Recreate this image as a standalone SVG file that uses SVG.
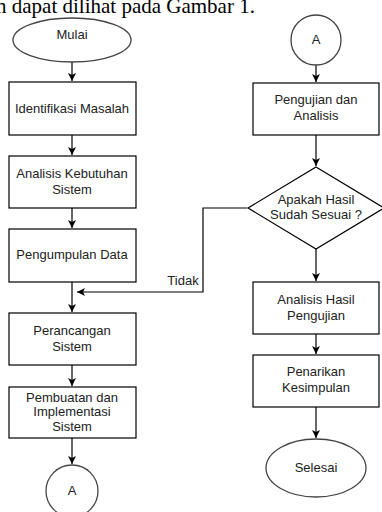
<svg xmlns="http://www.w3.org/2000/svg" width="382" height="512" viewBox="0 0 382 512">
<style>
.box{fill:#fff;stroke:#000;stroke-width:1.2}
.term{fill:#fff;stroke:#444;stroke-width:1.3}
.t{font-family:"Liberation Sans",Arial,sans-serif;font-size:13px;fill:#222;text-anchor:middle}
.c{fill:none;stroke:#000;stroke-width:1.2}
</style>
<defs>
<marker id="ah" markerWidth="10" markerHeight="10" refX="8" refY="5" orient="auto" markerUnits="userSpaceOnUse">
<path d="M0,1 L8,5 L0,9 L2,5 z" fill="#000"/>
</marker>
</defs>
<rect width="382" height="512" fill="#fff"/>
<text x="-4" y="13" font-family="'Liberation Serif','Times New Roman',serif" font-size="21" fill="#000">n dapat dilihat pada Gambar 1.</text>

<g id="connectors">
<path class="c" d="M72,62 V81" marker-end="url(#ah)"/>
<path class="c" d="M72,135 V155" marker-end="url(#ah)"/>
<path class="c" d="M72,208 V228" marker-end="url(#ah)"/>
<path class="c" d="M72,282 V312" marker-end="url(#ah)"/>
<path class="c" d="M72,365 V386" marker-end="url(#ah)"/>
<path class="c" d="M72,438 V464" marker-end="url(#ah)"/>
<path class="c" d="M316,65 V82" marker-end="url(#ah)"/>
<path class="c" d="M316,135 V166" marker-end="url(#ah)"/>
<path class="c" d="M316,249 V281" marker-end="url(#ah)"/>
<path class="c" d="M316,334 V354" marker-end="url(#ah)"/>
<path class="c" d="M316,407 V438" marker-end="url(#ah)"/>
<path class="c" d="M247,208 H203 V292 H77" marker-end="url(#ah)"/>
<text class="t" x="183" y="285">Tidak</text>
</g>

<g id="mulai"><ellipse class="term" cx="72" cy="40" rx="59" ry="22"/><text class="t" x="72" y="39">Mulai</text></g>
<g id="identifikasi"><rect class="box" x="9" y="82" width="127" height="53"/><text class="t" x="72" y="113">Identifikasi Masalah</text></g>
<g id="analisis-kebutuhan"><rect class="box" x="9" y="156" width="127" height="52"/><text class="t" x="72" y="178">Analisis Kebutuhan</text><text class="t" x="72" y="194">Sistem</text></g>
<g id="pengumpulan"><rect class="box" x="9" y="229" width="127" height="53"/><text class="t" x="72" y="259">Pengumpulan Data</text></g>
<g id="perancangan"><rect class="box" x="9" y="313" width="127" height="52"/><text class="t" x="72" y="335">Perancangan</text><text class="t" x="72" y="351">Sistem</text></g>
<g id="pembuatan"><rect class="box" x="9" y="387" width="127" height="51"/><text class="t" x="72" y="402">Pembuatan dan</text><text class="t" x="72" y="416">Implementasi</text><text class="t" x="72" y="431">Sistem</text></g>
<g id="a-bottom"><circle class="term" cx="72" cy="491" r="26"/><text class="t" x="72" y="495">A</text></g>

<g id="a-top"><circle class="term" cx="316" cy="40" r="25"/><text class="t" x="316" y="44">A</text></g>
<g id="pengujian"><rect class="box" x="253" y="83" width="126" height="52"/><text class="t" x="316" y="104">Pengujian dan</text><text class="t" x="316" y="120">Analisis</text></g>
<g id="keputusan"><polygon class="box" points="316,167 384,208 316,249 248,208"/><text class="t" x="316" y="204">Apakah Hasil</text><text class="t" x="316" y="219">Sudah Sesuai ?</text></g>
<g id="analisis-hasil"><rect class="box" x="253" y="282" width="126" height="52"/><text class="t" x="316" y="304">Analisis Hasil</text><text class="t" x="316" y="320">Pengujian</text></g>
<g id="penarikan"><rect class="box" x="253" y="355" width="126" height="52"/><text class="t" x="316" y="376">Penarikan</text><text class="t" x="316" y="392">Kesimpulan</text></g>
<g id="selesai"><ellipse class="term" cx="316" cy="468" rx="50" ry="29"/><text class="t" x="316" y="472">Selesai</text></g>
</svg>
